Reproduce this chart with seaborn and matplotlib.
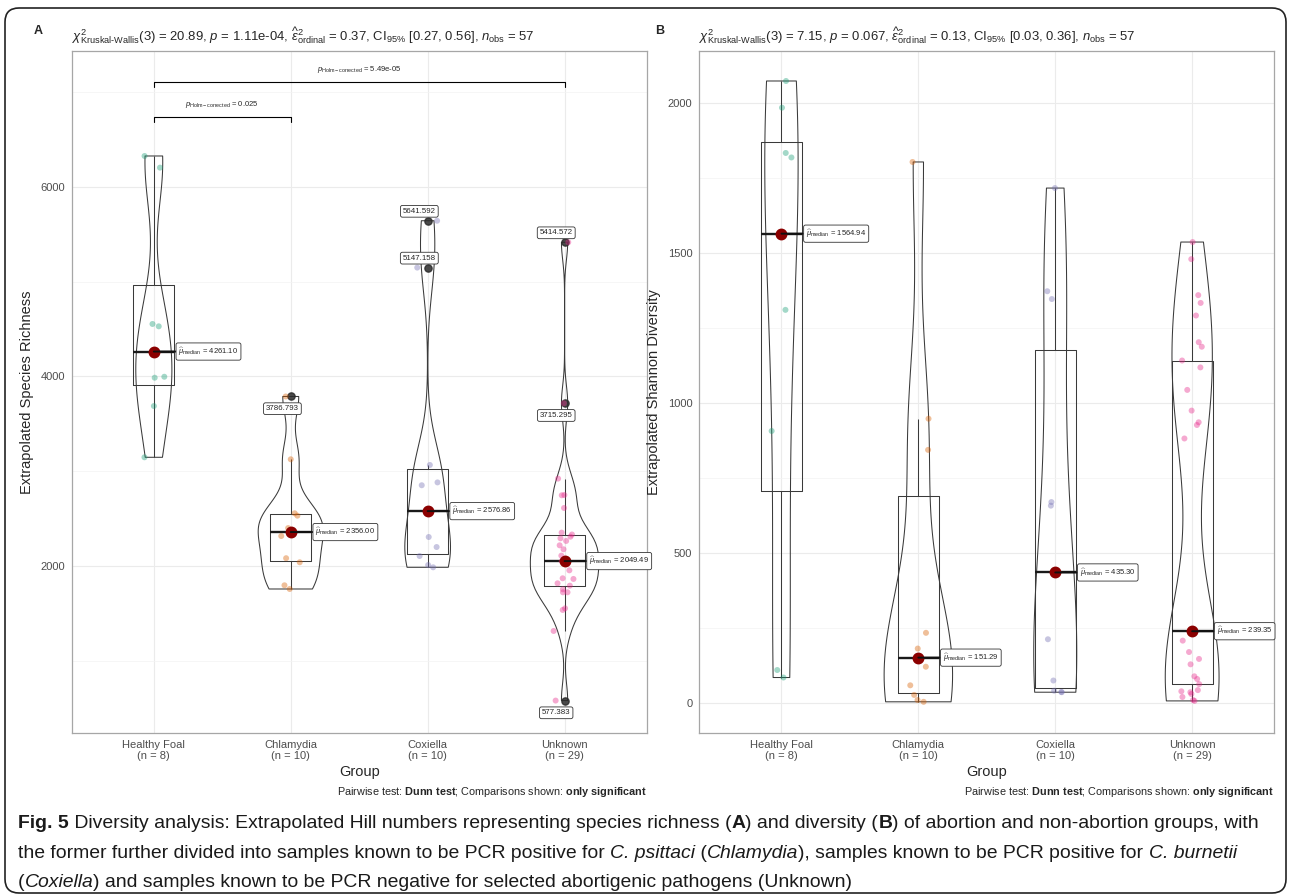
import numpy as np
import pandas as pd
import matplotlib
matplotlib.use("Agg")
import matplotlib.pyplot as plt
import seaborn as sns
from matplotlib.patches import FancyBboxPatch
from matplotlib.ticker import MultipleLocator
from matplotlib import font_manager
from matplotlib.transforms import IdentityTransform

# ---------------- data ----------------
groups = ["Healthy Foal", "Chlamydia", "Coxiella", "Unknown"]
palette = ["#1B9E77", "#D95F02", "#7570B3", "#E7298A"]

richness_healthy = [6325, 6202, 4552, 4527.2, 3995, 3985, 3686, 3145]
richness_chlamydia = [3786.793, 3124, 2554, 2529, 2398, 2314, 2080, 2037, 1794, 1755]
richness_coxiella = [5641.592, 5147.158, 3064, 2880, 2850, 2303.72, 2198, 2103, 2008, 1984]
richness_unknown = [5414.572, 3715.295, 2920, 2747, 2744, 2610, 2350, 2330, 2307, 2290,
                    2262, 2216, 2174, 2107, 2049.49, 2048, 2033, 1952, 1868, 1861,
                    1815, 1790, 1752, 1720, 1720, 1551, 1534, 1312, 577.383]

shannon_healthy = [2074, 1985, 1834, 1819, 1310.88, 907, 110, 85]
shannon_chlamydia = [1804, 948, 844, 234, 181.58, 121, 59, 27, 10, 4]
shannon_coxiella = [1717, 1373, 1347, 670, 658, 212.6, 75, 41, 37, 36]
shannon_unknown = [1537, 1480, 1360, 1334, 1292, 1203, 1188, 1142, 1119, 1044,
                   975, 936, 927, 882, 239.35, 208, 170, 147, 129, 89,
                   80, 63, 43, 39, 36, 30, 20, 10, 7]

title_A = (r"$\chi^2_{\mathrm{Kruskal‐Wallis}}(3)$ = 20.89, $\mathit{p}$ = 1.11e-04, "
           r"$\widehat{\varepsilon}^2_{\mathrm{ordinal}}$ = 0.37, CI$_{95\%}$ [0.27, 0.56], "
           r"$\mathit{n}_{\mathrm{obs}}$ = 57")
title_B = (r"$\chi^2_{\mathrm{Kruskal‐Wallis}}(3)$ = 7.15, $\mathit{p}$ = 0.067, "
           r"$\widehat{\varepsilon}^2_{\mathrm{ordinal}}$ = 0.13, CI$_{95\%}$ [0.03, 0.36], "
           r"$\mathit{n}_{\mathrm{obs}}$ = 57")

comparison_pairs_A = [("Healthy Foal", "Chlamydia"), ("Healthy Foal", "Unknown")]
comparison_p_A = ["0.025", "5.49e-05"]

caption_lines = [
    [("Fig. 5", "b"), (" Diversity analysis: Extrapolated Hill numbers representing species richness (", "r"),
     ("A", "b"), (") and diversity (", "r"), ("B", "b"), (") of abortion and non-abortion groups, with", "r")],
    [("the former further divided into samples known to be PCR positive for ", "r"), ("C. psittaci", "i"),
     (" (", "r"), ("Chlamydia", "i"), ("), samples known to be PCR positive for ", "r"), ("C. burnetii", "i")],
    [("(", "r"), ("Coxiella", "i"), (") and samples known to be PCR negative for selected abortigenic pathogens (Unknown)", "r")],
]

# ---------------- style ----------------
sns.set_style("white")
plt.rcParams.update({
    "font.family": ["Liberation Sans", "DejaVu Sans"],
    "mathtext.fontset": "custom",
    "mathtext.rm": "Liberation Sans",
    "mathtext.it": "Liberation Sans:italic",
    "mathtext.bf": "Liberation Sans:bold",
    "mathtext.sf": "Liberation Sans",
})

W, H = 1290, 896
fig = plt.figure(figsize=(W / 100, H / 100), dpi=100)
fig.patch.set_facecolor("white")
renderer = fig.canvas.get_renderer()


def fx(x):
    return x / W


def fy(y):
    return 1 - y / H


def nrd0(kde):
    x = np.asarray(kde.dataset).ravel()
    sd = x.std(ddof=1)
    q75, q25 = np.percentile(x, [75, 25])
    lo = min(sd, (q75 - q25) / 1.34)
    return 0.9 * lo * len(x) ** -0.2 / sd


def width_px(s, **kw):
    t = fig.text(0, 0, s + "|", **kw)
    w1 = t.get_window_extent(renderer).width
    t.remove()
    t = fig.text(0, 0, "|", **kw)
    w2 = t.get_window_extent(renderer).width
    t.remove()
    return w1 - w2


def fit_size(s, target, base=10, **kw):
    w = width_px(s, fontsize=base, **kw)
    return base * target / w


panels = [
    dict(tag="A", vals=[richness_healthy, richness_chlamydia, richness_coxiella, richness_unknown],
         ylabel="Extrapolated Species Richness", ylim=(232, 7433), major=2000, minor=1000,
         title=title_A, fliers=True, box=(71.7, 51, 646.7, 733.3), tagx=38, ylabx=34, title_end=533,
         pairs=comparison_pairs_A, pvals=comparison_p_A,
         bracket_base=6740, bracket_step=369, bracket_tick=55, bracket_gap=130,
         outlier_side={"Chlamydia": ["below"], "Coxiella": ["above", "above"],
                       "Unknown": ["above", "below", "below"]}),
    dict(tag="B", vals=[shannon_healthy, shannon_chlamydia, shannon_coxiella, shannon_unknown],
         ylabel="Extrapolated Shannon Diversity", ylim=(-101, 2174), major=500, minor=250,
         title=title_B, fliers=False, box=(699.3, 51, 1274.3, 733.3), tagx=660, ylabx=661, title_end=1124,
         pairs=[], pvals=[], outlier_side={}),
]

np.random.seed(7)
line_col = "#3a3a3a"
title_fs = None

for P in panels:
    l, t, r, b = P["box"]
    ax = fig.add_axes([fx(l), fy(b), (r - l) / W, (b - t) / H])
    df = pd.DataFrame({
        "Group": np.repeat(groups, [len(v) for v in P["vals"]]),
        "Value": np.concatenate([np.asarray(v, float) for v in P["vals"]]),
    })

    sns.violinplot(data=df, x="Group", y="Value", order=groups, ax=ax, width=0.5, cut=0,
                   density_norm="area", bw_method=nrd0, inner=None, fill=False,
                   color=line_col, linewidth=0.75)
    sns.boxplot(data=df, x="Group", y="Value", order=groups, ax=ax, width=0.3, fill=False,
                color=line_col, linewidth=0.75, whis=1.5, showfliers=P["fliers"], showcaps=False,
                medianprops=dict(color="#1a1a1a", linewidth=1.7),
                flierprops=dict(marker="o", markersize=5.2, markerfacecolor="#2b2b2b",
                                markeredgecolor="#2b2b2b", alpha=0.85))
    sns.stripplot(data=df, x="Group", y="Value", hue="Group", order=groups, hue_order=groups,
                  palette=palette, ax=ax, jitter=0.08, size=4.3, alpha=0.4, linewidth=0,
                  legend=False, zorder=3)
    sns.pointplot(data=df, x="Group", y="Value", order=groups, estimator="median",
                  errorbar=None, color="darkred", marker="o", markersize=6.5,
                  linestyle="none", ax=ax, zorder=6)

    # median labels
    meds = df.groupby("Group", sort=False)["Value"].median()
    for i, g in enumerate(groups):
        m = meds[g]
        ax.annotate(r"$\widehat{\mu}_{\mathrm{median}}$ = " + f"{m:.2f}",
                    xy=(i, m), xytext=(i + 0.18, m), ha="left", va="center", fontsize=5.5,
                    bbox=dict(boxstyle="round,pad=0.32,rounding_size=0.25", fc="white", ec="#333333", lw=0.6),
                    arrowprops=dict(arrowstyle="-", color="#111111", lw=1.4, shrinkA=0, shrinkB=0),
                    zorder=7)

    # outlier tags
    for i, g in enumerate(groups):
        sides = P["outlier_side"].get(g)
        if not sides:
            continue
        v = np.sort(df.loc[df["Group"] == g, "Value"].to_numpy())[::-1]
        q1, q3 = np.percentile(v, [25, 75])
        iqr = q3 - q1
        outs = [x for x in v if x > q3 + 1.5 * iqr or x < q1 - 1.5 * iqr]
        for val, side in zip(outs, sides):
            dy = 6.8 if side == "above" else -8.8
            ax.annotate(f"{val:.3f}", xy=(i, val), xytext=(-6, dy), textcoords="offset points",
                        ha="center", va="center", fontsize=5.7,
                        bbox=dict(boxstyle="round,pad=0.3,rounding_size=0.25", fc="white", ec="#333333", lw=0.6),
                        zorder=7)

    # significance brackets
    for k, ((g1, g2), p) in enumerate(zip(P["pairs"], P["pvals"])):
        x1, x2 = groups.index(g1), groups.index(g2)
        y = P["bracket_base"] + k * P["bracket_step"]
        tk = P["bracket_tick"]
        ax.plot([x1, x1, x2, x2], [y - tk, y, y, y - tk], color="black", lw=0.8, zorder=4)
        ax.text((x1 + x2) / 2, y + P["bracket_gap"],
                r"$\mathit{p}_{\mathrm{Holm-corrected}}$ = " + p,
                ha="center", va="center", fontsize=5.5)

    # axes formatting
    ax.set_xlim(-0.6, 3.6)
    ax.set_ylim(*P["ylim"])
    ax.yaxis.set_major_locator(MultipleLocator(P["major"]))
    ax.yaxis.set_minor_locator(MultipleLocator(P["minor"]))
    counts = [len(v) for v in P["vals"]]
    ax.set_xticks(range(len(groups)))
    ax.set_xticklabels([f"{g}\n(n = {n})" for g, n in zip(groups, counts)], linespacing=1.05)
    ax.grid(True, which="major", color="#EBEBEB", lw=0.8)
    ax.grid(True, which="minor", axis="y", color="#F3F3F3", lw=0.5)
    ax.set_axisbelow(True)
    ax.tick_params(which="minor", length=0)
    ax.tick_params(which="major", length=3, color="#333333", width=0.6, labelsize=8,
                   labelcolor="#4D4D4D", pad=2)
    for s in ax.spines.values():
        s.set_color("#A6A6A6")
        s.set_linewidth(0.9)
    ax.set_xlabel("Group", fontsize=10.5, labelpad=3)
    ax.set_ylabel(P["ylabel"], fontsize=10.5)
    ax.yaxis.set_label_coords((P["ylabx"] - l) / (r - l), 0.5)

    # title, tag, pairwise note
    fs = fit_size(P["title"], P["title_end"] - l)
    if title_fs is None:
        title_fs = fs
    fig.text(fx(l), fy(40.7), P["title"], fontsize=title_fs, ha="left", va="baseline")
    fig.text(fx(P["tagx"]), fy(31), P["tag"], fontsize=9, fontweight="bold", ha="center", va="center")
    fig.text(fx(r), fy(792), r"Pairwise test: $\mathbf{Dunn\ test}$; Comparisons shown: $\mathbf{only\ significant}$",
             fontsize=7.8, ha="right", va="center")


# ---------------- caption ----------------
def pick_font(cands):
    for c in cands:
        try:
            font_manager.findfont(font_manager.FontProperties(family=c), fallback_to_default=False)
            return c
        except Exception:
            pass
    return "DejaVu Sans"


cap_font = pick_font(["Liberation Sans Narrow", "Liberation Sans"])
style_map = {"r": dict(fontweight="normal", fontstyle="normal"),
             "b": dict(fontweight="bold", fontstyle="normal"),
             "i": dict(fontweight="normal", fontstyle="italic")}


def line_width(pieces, fs):
    return sum(width_px(s, fontsize=fs, family=cap_font, **style_map[st]) for s, st in pieces)


cap_fs = 12 * 1244 / line_width(caption_lines[0], 12)
baselines = [828, 858, 887]
for pieces, yb in zip(caption_lines, baselines):
    x = 18
    for s, st in pieces:
        fig.text(fx(x), fy(yb), s, fontsize=cap_fs, family=cap_font, ha="left", va="baseline",
                 color="#1a1a1a", **style_map[st])
        x += width_px(s, fontsize=cap_fs, family=cap_font, **style_map[st])

# ---------------- outer rounded border ----------------
border = FancyBboxPatch((5, H - 893), 1281, 885, boxstyle="round,pad=0,rounding_size=14",
                        transform=IdentityTransform(), fill=False, ec="#222222", lw=1.2)
fig.patches.append(border)

fig.savefig("out.png", dpi=100, facecolor="white")
